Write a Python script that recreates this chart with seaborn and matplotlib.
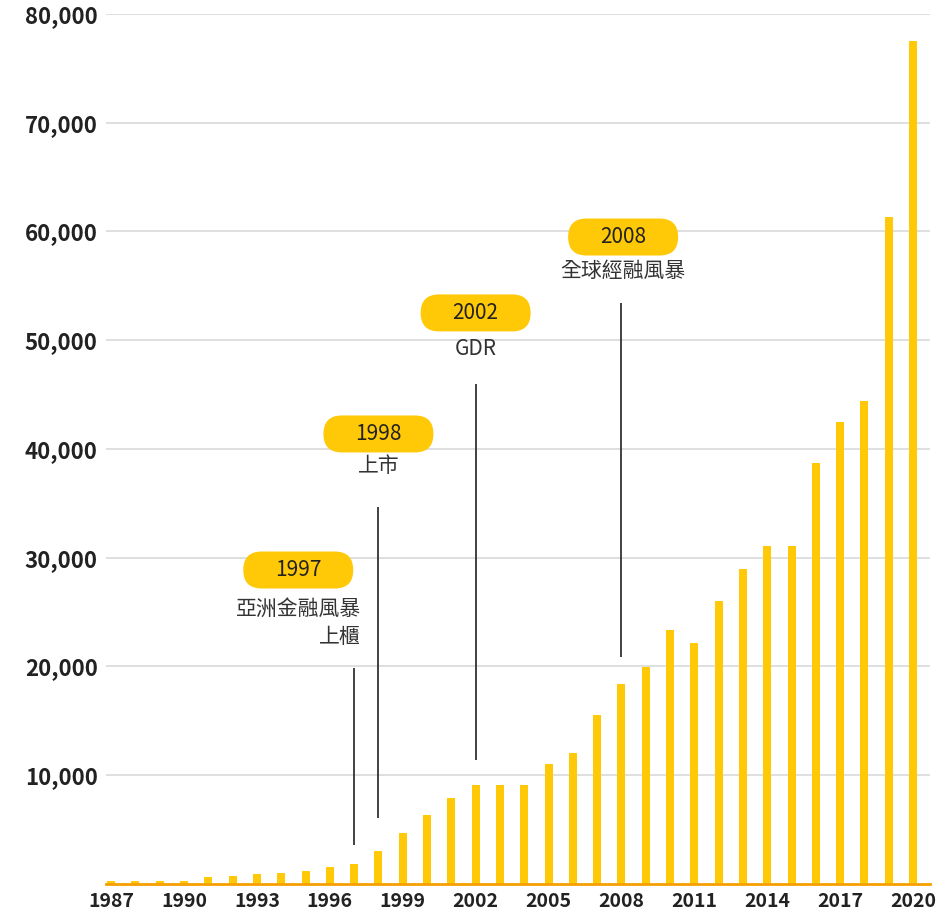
import matplotlib
matplotlib.use("Agg")
import matplotlib.pyplot as plt
import matplotlib.transforms as mtransforms
from matplotlib.patches import FancyBboxPatch
import seaborn as sns
import pandas as pd

# data
years = list(range(1987, 2021))
values = [300, 300, 300, 300, 600, 750, 950, 1050, 1150, 1600,
          1850, 3000, 4700, 6350, 7950, 9100, 9100, 9100, 11000, 12000,
          15570, 18390, 19920, 23360, 22140, 25980, 29000, 31100, 31100, 38700,
          42500, 44400, 61300, 77500]
y_ticks = [10000, 20000, 30000, 40000, 50000, 60000, 70000, 80000]
x_ticks = years[::3]

# event callouts: year label, text below, line year
event_years = ["1997", "1998", "2002", "2008"]
event_texts = ["亞洲金融風暴\n上櫃", "上市", "GDR", "全球經融風暴"]
event_line_x = [1997, 1998, 2002, 2008]

# layout of the callouts (data coords)
pill_x = [1994.7, 1998, 2002, 2008.07]
pill_y = [28870, 41380, 52510, 59490]
text_y = [24000, 38440, 49200, 56370]
line_lo = [3590, 6070, 11400, 20870]
line_hi = [19860, 34670, 45980, 53430]

BAR = "#FFC907"
PILL = "#FFC907"
ORANGE = "#F5A000"

sns.set_theme(style="white")
plt.rcParams['font.family'] = ['Noto Sans CJK TC', 'DejaVu Sans']

df = pd.DataFrame({"year": years, "value": values})

fig = plt.figure(figsize=(9.46, 9.13), dpi=100)
ax = fig.add_axes([0.1121, 0.0318, 0.8710, 0.9529])

sns.barplot(data=df, x="year", y="value", native_scale=True, width=0.33,
            color=BAR, saturation=1, linewidth=0, ax=ax)

ax.set_xlim(1986.79, 2020.70)
ax.set_ylim(0, 80000)
ax.set_yticks(y_ticks)
ax.set_yticklabels([f"{v:,}" for v in y_ticks])
ax.set_xticks(x_ticks)
ax.set_xticklabels([str(y) for y in x_ticks])
ax.set_xlabel("")
ax.set_ylabel("")

ax.yaxis.grid(True, color="#dcdcdc", lw=1.3)
ax.set_axisbelow(True)
for s in ["left", "right", "top"]:
    ax.spines[s].set_visible(False)
ax.spines["bottom"].set_color(ORANGE)
ax.spines["bottom"].set_linewidth(2)

ax.tick_params(axis="x", direction="in", length=8, width=1.2, color="#F08A00",
               pad=6, labelsize=14, labelcolor="#222222")
ax.tick_params(axis="y", length=0, pad=6, labelsize=16, labelcolor="#222222")
for lbl in ax.get_xticklabels() + ax.get_yticklabels():
    lbl.set_fontweight("bold")

# callouts
for i in range(len(event_years)):
    trans = fig.dpi_scale_trans + mtransforms.ScaledTranslation(pill_x[i], pill_y[i], ax.transData)
    pill = FancyBboxPatch((-0.55, -0.185), 1.1, 0.37,
                          boxstyle="round,pad=0,rounding_size=0.185",
                          transform=trans, fc=PILL, ec="none", zorder=3, clip_on=False)
    ax.add_artist(pill)
    ax.text(pill_x[i], pill_y[i], event_years[i], ha="center", va="center",
            fontsize=15, color="#222222", zorder=4)
    ax.text(pill_x[i], text_y[i], event_texts[i], ha="center", va="center",
            fontsize=15, color="#333333", linespacing=1.3, multialignment="right", zorder=4)
    ax.vlines(event_line_x[i], line_lo[i], line_hi[i], color="#333333", lw=1.3, zorder=4)

fig.savefig("out.png", dpi=100)
